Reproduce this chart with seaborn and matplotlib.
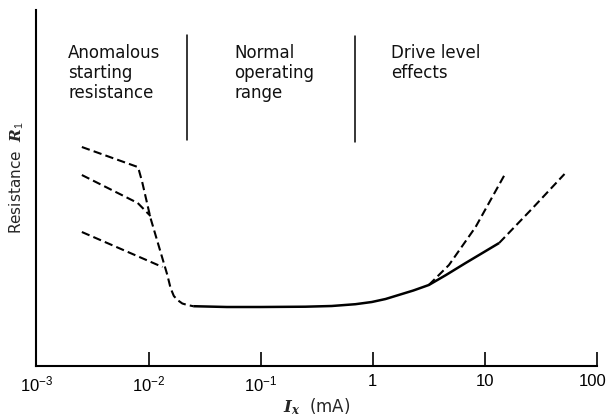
import matplotlib
matplotlib.use("Agg")
import matplotlib.pyplot as plt
import matplotlib.transforms as mtransforms
import seaborn as sns
import pandas as pd

# ---- data (R in arbitrary units) ----
left_top_x = [2.54e-3, 8.0e-3, 8.19e-3, 8.77e-3, 1.04e-2, 1.47e-2, 1.57e-2, 1.68e-2, 1.81e-2, 2.0e-2, 2.22e-2, 2.5e-2]
left_top_R = [219, 199, 196, 184, 148, 91, 78, 70, 66, 62.5, 61, 59.8]
left_mid_x = [2.54e-3, 8.0e-3, 1.04e-2]
left_mid_R = [191, 163, 150]
left_low_x = [2.54e-3, 1.33e-2]
left_low_R = [134, 99]
normal_x = [2.5e-2, 0.05, 0.1, 0.25, 0.43, 0.7, 0.98, 1.3, 1.7, 2.3, 3.16, 4.5, 6.73, 9.5, 13.4]
normal_R = [59.8, 59, 59, 59.3, 60, 61.8, 64, 67, 71, 75.5, 81, 91, 103, 113, 123]
drive_low_x = [13.4, 26.7, 51.3]
drive_low_R = [123, 158, 192]
drive_high_x = [3.16, 4.78, 8.26, 15.3]
drive_high_R = [81, 101, 139, 193]

tick_vals = [1e-3, 1e-2, 1e-1, 1, 10, 100]
tick_labels = [r"$10^{-3}$", r"$10^{-2}$", r"$10^{-1}$", "1", "10", "100"]

region_labels = ["Anomalous\nstarting\nresistance", "Normal\noperating\nrange", "Drive level\neffects"]
region_label_x = [1.92e-3, 0.0578, 1.45]
divider_x = [0.0219, 0.690]
divider_R = [(226, 331), (224, 330)]

# ---- style ----
sns.set_theme(style="white")
plt.rcParams["font.family"] = ["DejaVu Sans"]
plt.rcParams["mathtext.fontset"] = "custom"
plt.rcParams["mathtext.rm"] = "Liberation Sans"
plt.rcParams["mathtext.it"] = "DejaVu Serif:italic:bold"
plt.rcParams["mathtext.bf"] = "DejaVu Serif:bold"

fig = plt.figure(figsize=(6.1, 4.17), dpi=100)
ax = fig.add_axes([0.0598, 0.1223, 0.9787 - 0.0598, 0.976 - 0.1223])

dash = (4, 2)
def seg(x, y, dashed, lw):
    df = pd.DataFrame({"x": x, "R": y})
    sns.lineplot(data=df, x="x", y="R", ax=ax, color="black", sort=False,
                 estimator=None, linewidth=lw)
    line = ax.get_lines()[-1]
    if dashed:
        line.set_dashes(dash)
    line.set_solid_capstyle("butt")
    line.set_solid_joinstyle("round")

seg(left_top_x, left_top_R, True, 1.5)
seg(left_mid_x, left_mid_R, True, 1.5)
seg(left_low_x, left_low_R, True, 1.5)
seg(normal_x, normal_R, False, 1.8)
seg(drive_low_x, drive_low_R, True, 1.5)
seg(drive_high_x, drive_high_R, True, 1.5)

for xd, (r0, r1) in zip(divider_x, divider_R):
    ax.plot([xd, xd], [r0, r1], color="black", lw=1.1)

for lab, xl in zip(region_labels, region_label_x):
    ax.text(xl, 322, lab, ha="left", va="top", fontsize=12, linespacing=1.15, color="#111111")

ax.set_xscale("log")
ax.set_xlim(1e-3, 100)
ax.set_ylim(0, 356)
ax.set_xticks(tick_vals)
ax.set_xticklabels(tick_labels, fontfamily="Liberation Sans")
ax.minorticks_off()
ax.set_yticks([])
ax.tick_params(axis="x", direction="in", length=10, width=1.2, pad=6, labelsize=12,
               colors="black", bottom=True)
for s in ["top", "right"]:
    ax.spines[s].set_visible(False)
for s in ["left", "bottom"]:
    ax.spines[s].set_color("black")
    ax.spines[s].set_linewidth(1.5)

# keep the last tick label ("100") inside the figure, as in the reference
last = ax.get_xticklabels()[-1]
last.set_transform(last.get_transform() + mtransforms.ScaledTranslation(-4 / 100, 0, fig.dpi_scale_trans))

ax.set_xlabel(r"$I_x$  (mA)", fontsize=12)
ax.xaxis.set_label_coords(0.5, -0.085)
ax.set_ylabel(r"Resistance  $R_1$", fontsize=11)
ax.yaxis.set_label_coords(-0.019, 0.53)

fig.savefig("out.png", dpi=100)
